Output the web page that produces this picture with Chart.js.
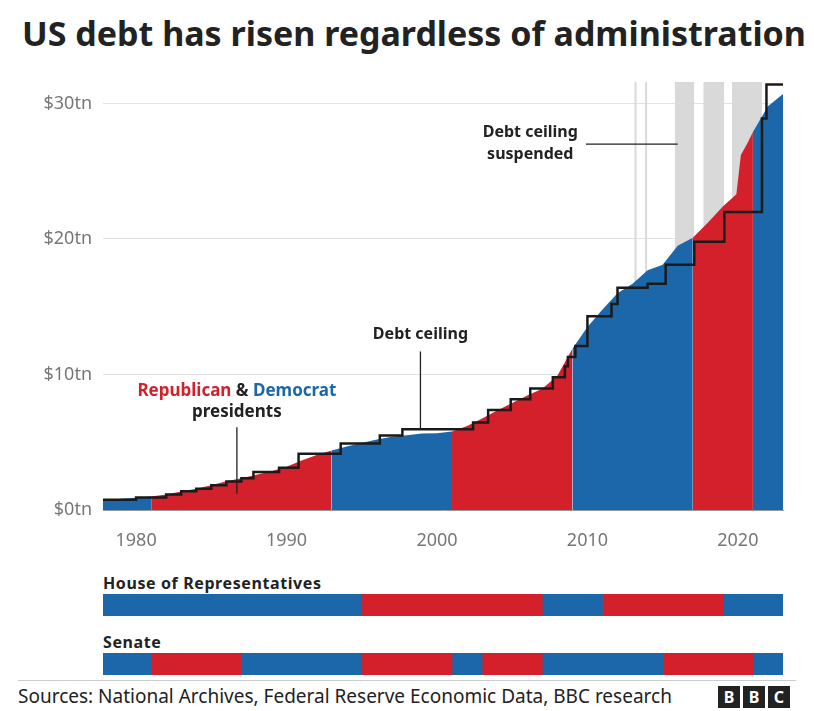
<!DOCTYPE html>
<html>
<head>
<meta charset="utf-8">
<script src="https://cdn.jsdelivr.net/npm/chart.js@4"></script>
<style>
  body { margin: 0; width: 814px; height: 711px; background: #fff; font-family: "Noto Sans", sans-serif; position: relative; overflow: hidden; }
  #title { position: absolute; left: 22px; top: 10px; font-size: 34px; font-weight: bold; color: #222; }
  .wrap { position: absolute; left: 0; width: 814px; }
  .lab { position: absolute; left: 103px; font-size: 16px; font-weight: bold; color: #222; letter-spacing: 0.6px; }
  #src { position: absolute; left: 18px; top: 683px; font-size: 19px; color: #222; }
  #bbc { position: absolute; left: 718px; top: 686px; }
  #bbc span { display: inline-block; width: 22px; height: 22px; background: #222; color: #fff; font-weight: bold; font-size: 16px; text-align: center; line-height: 22px; margin-right: 3px; }
  #rule { position: absolute; left: 18px; right: 18px; top: 680px; border-top: 1px solid #ccc; }
</style>
</head>
<body>
<div id="title">US debt has risen regardless of administration</div>
<div class="wrap" style="top:60px;height:500px"><canvas id="main"></canvas></div>
<div class="lab" style="top:572px">House of Representatives</div>
<div class="wrap" style="top:594px;height:22px"><canvas id="house"></canvas></div>
<div class="lab" style="top:631px">Senate</div>
<div class="wrap" style="top:653px;height:22px"><canvas id="senate"></canvas></div>
<div id="rule"></div>
<div id="src">Sources: National Archives, Federal Reserve Economic Data, BBC research</div>
<div id="bbc"><span>B</span><span>B</span><span>C</span></div>
<script>
const RED = '#d3202b', BLUE = '#1b67a9', GREY = '#d9d9d9';
const X_MIN = 1977.8, X_MAX = 2023.0, Y_MAX = 31.6;

// federal debt, $tn
const debtYears = [1977.8, 1979, 1980, 1981, 1982, 1983, 1984, 1985, 1986, 1987, 1988, 1989, 1990, 1991, 1992, 1993,
  1994, 1995, 1996, 1997, 1998, 1999, 2000, 2001, 2002, 2003, 2004, 2005, 2006, 2007, 2008, 2009,
  2010, 2011, 2012, 2013, 2014, 2015, 2016, 2017, 2018, 2019, 2019.9, 2020.2, 2020.6, 2021, 2022, 2023];
const debtValues = [0.72, 0.83, 0.9, 1.0, 1.14, 1.37, 1.57, 1.82, 2.12, 2.35, 2.6, 2.86, 3.2, 3.66, 4.06, 4.4,
  4.69, 4.95, 5.2, 5.4, 5.52, 5.65, 5.67, 5.8, 6.2, 6.75, 7.35, 7.9, 8.45, 8.95, 9.9, 11.9,
  13.5, 14.8, 16.0, 16.7, 17.7, 18.1, 19.5, 20.1, 21.2, 22.4, 23.3, 26.2, 27.0, 27.9, 29.8, 30.7];

// presidential terms
const terms = [[1977.8, 1981, 'D'], [1981, 1993, 'R'], [1993, 2001, 'D'], [2001, 2009, 'R'],
  [2009, 2017, 'D'], [2017, 2021, 'R'], [2021, 2023, 'D']];

// debt ceiling: new level starting at year
const ceilingYears = [1977.8, 1980, 1982, 1983, 1984, 1985, 1986, 1987, 1987.8, 1989.5, 1990.8, 1993.6,
  1996.2, 1997.7, 2002.4, 2003.4, 2004.9, 2006.2, 2007.7, 2008.5, 2008.7, 2009.2, 2010.0, 2011.6, 2012.0,
  2014.0, 2015.2, 2017.1, 2019.1, 2021.6, 2021.9, 2023.0];
const ceilingValues = [0.75, 0.93, 1.14, 1.39, 1.57, 1.82, 2.1, 2.35, 2.8, 3.12, 4.15, 4.9,
  5.5, 5.95, 6.45, 7.38, 8.18, 8.97, 9.8, 10.6, 11.3, 12.1, 14.3, 15.2, 16.4,
  16.7, 18.1, 19.8, 22.0, 28.9, 31.4, 31.4];

// debt ceiling suspended periods
const suspendedLines = [2013.2, 2013.9];
const suspendedBands = [[2015.8, 2017.1], [2017.7, 2019.1], [2019.6, 2021.6]];

// congress control
const houseControl = [[1977.8, 1995, 'D'], [1995, 2007, 'R'], [2007, 2011, 'D'], [2011, 2019, 'R'], [2019, 2023, 'D']];
const senateControl = [[1977.8, 1981, 'D'], [1981, 1987, 'R'], [1987, 1995, 'D'], [1995, 2001, 'R'], [2001, 2003, 'D'],
  [2003, 2007, 'R'], [2007, 2015, 'D'], [2015, 2021, 'R'], [2021, 2023, 'D']];

const xTicks = [1980, 1990, 2000, 2010, 2020];
const yTicks = [0, 10, 20, 30];

const datasets = [];
terms.forEach(t => {
  const pts = [];
  debtYears.forEach((y, i) => { if (y >= t[0] && y <= t[1]) pts.push({x: y, y: debtValues[i]}); });
  datasets.push({type: 'line', data: pts, fill: 'origin', backgroundColor: t[2] === 'R' ? RED : BLUE,
    borderWidth: 0, pointRadius: 0, tension: 0, order: 5});
});
suspendedBands.forEach(b => {
  datasets.push({type: 'line', data: [{x: b[0], y: Y_MAX}, {x: b[1], y: Y_MAX}], fill: 'origin',
    backgroundColor: GREY, borderWidth: 0, pointRadius: 0, order: 10});
});
suspendedLines.forEach(x => {
  datasets.push({type: 'line', data: [{x: x, y: 0}, {x: x, y: Y_MAX}], borderColor: GREY,
    borderWidth: 2, pointRadius: 0, order: 10});
});
datasets.push({type: 'line', data: ceilingYears.map((y, i) => ({x: y, y: ceilingValues[i]})),
  stepped: 'before', borderColor: '#1a1a1a', borderWidth: 2.5, pointRadius: 0, fill: false, order: 1});

const notes = {
  id: 'notes',
  afterDatasetsDraw(chart) {
    const c = chart.ctx, xs = chart.scales.x, ys = chart.scales.y;
    c.save();
    c.strokeStyle = '#222'; c.lineWidth = 1.3; c.textAlign = 'center'; c.textBaseline = 'alphabetic';
    c.font = 'bold 16px "Noto Sans"'; c.fillStyle = '#222';
    // debt ceiling label
    let x = xs.getPixelForValue(1998.9);
    c.fillText('Debt ceiling', x, ys.getPixelForValue(12.6));
    c.beginPath(); c.moveTo(x, ys.getPixelForValue(11.7)); c.lineTo(x, ys.getPixelForValue(5.95)); c.stroke();
    // suspended label
    x = xs.getPixelForValue(2006.2);
    c.fillText('Debt ceiling', x, ys.getPixelForValue(27.5));
    c.fillText('suspended', x, ys.getPixelForValue(25.9));
    c.beginPath(); c.moveTo(xs.getPixelForValue(2009.9), ys.getPixelForValue(27.0));
    c.lineTo(xs.getPixelForValue(2016.0), ys.getPixelForValue(27.0)); c.stroke();
    // presidents
    x = xs.getPixelForValue(1986.7);
    c.font = 'bold 17px "Noto Sans"';
    const y1 = ys.getPixelForValue(8.4);
    const w1 = c.measureText('Republican').width, w2 = c.measureText(' & ').width, w3 = c.measureText('Democrat').width;
    let left = x - (w1 + w2 + w3) / 2;
    c.textAlign = 'left';
    c.fillStyle = RED; c.fillText('Republican', left, y1);
    c.fillStyle = '#222'; c.fillText(' & ', left + w1, y1);
    c.fillStyle = BLUE; c.fillText('Democrat', left + w1 + w2, y1);
    c.fillStyle = '#222'; c.textAlign = 'center';
    c.fillText('presidents', x, ys.getPixelForValue(6.9));
    c.beginPath(); c.moveTo(x, ys.getPixelForValue(6.1)); c.lineTo(x, ys.getPixelForValue(1.2)); c.stroke();
    c.restore();
  }
};

new Chart(document.getElementById('main'), {
  type: 'line',
  data: {datasets},
  options: {
    responsive: true, maintainAspectRatio: false, animation: false,
    layout: {padding: {top: 15, right: 31, left: 0, bottom: 0}},
    plugins: {legend: {display: false}, tooltip: {enabled: false}},
    scales: {
      x: {type: 'linear', min: X_MIN, max: X_MAX,
        afterBuildTicks: s => { s.ticks = xTicks.map(v => ({value: v})); },
        afterFit: s => { s.height = 50; },
        grid: {display: false}, border: {display: true, color: '#999'},
        ticks: {color: '#777', font: {size: 18, family: 'Noto Sans'}, padding: 12, callback: v => v}},
      y: {min: 0, max: Y_MAX,
        afterBuildTicks: s => { s.ticks = yTicks.map(v => ({value: v})); },
        afterFit: s => { s.width = 103; },
        grid: {color: '#e3e3e3', drawTicks: false}, border: {display: false},
        ticks: {color: '#777', font: {size: 18, family: 'Noto Sans'}, padding: 11, callback: v => '$' + v + 'tn'}}
    }
  },
  plugins: [notes]
});

function congress(id, periods) {
  new Chart(document.getElementById(id), {
    type: 'bar',
    data: {labels: [''], datasets: periods.map(p => ({data: [[p[0], p[1]]],
      backgroundColor: p[2] === 'R' ? RED : BLUE, barPercentage: 1, categoryPercentage: 1, grouped: false}))},
    options: {
      indexAxis: 'y', responsive: true, maintainAspectRatio: false, animation: false,
      layout: {padding: {left: 103, right: 31, top: 0, bottom: 0}},
      plugins: {legend: {display: false}, tooltip: {enabled: false}},
      scales: {x: {type: 'linear', min: X_MIN, max: X_MAX, display: false}, y: {display: false}}
    }
  });
}
congress('house', houseControl);
congress('senate', senateControl);
</script>
</body>
</html>
